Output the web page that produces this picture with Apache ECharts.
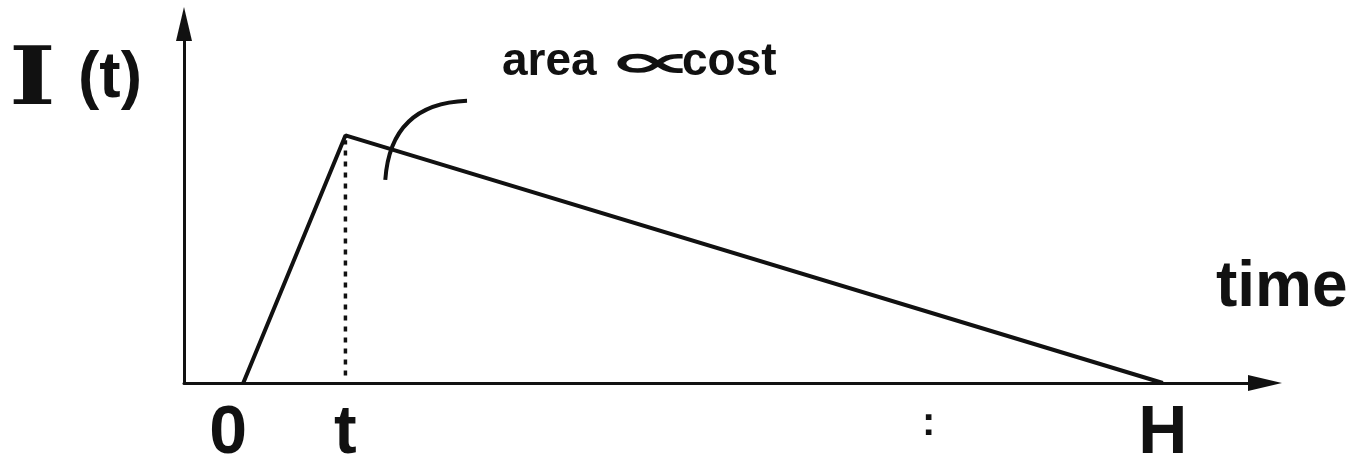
<!DOCTYPE html>
<html>
<head>
<meta charset="utf-8">
<script src="https://cdn.jsdelivr.net/npm/echarts@6/dist/echarts.min.js"></script>
<style>
  html, body { margin: 0; padding: 0; background: #fff; }
  #chart { width: 1362px; height: 460px; }
</style>
</head>
<body>
<div id="chart"></div>
<script>
// time axis: 0 = start, t = 1, H = 9; inventory peaks at 1
const xTicks = [0, 1, 9]
const xTickLabels = ['0', 't', 'H']
const inventory = [[0, 0], [1, 1], [9, 0]]
const peakDrop = [[1, 0.03], [1, 0.98]]
const pointerArc = [{ coords: [[2.19, 1.14], [1.39, 0.82]] }]

const INK = '#111'
const FONT = '"Liberation Sans", Arial, sans-serif'

const chart = echarts.init(document.getElementById('chart'), null, { renderer: 'canvas' })

const option = {
  animation: false,
  backgroundColor: '#fff',
  grid: { left: 184, right: 97, top: 24, bottom: 77, outerBoundsMode: 'none' },
  xAxis: {
    type: 'value',
    min: -0.58,
    max: 10,
    splitLine: { show: false },
    axisTick: { show: false },
    axisLine: {
      onZero: false,
      symbol: ['none', 'triangle'],
      symbolSize: [16, 34],
      lineStyle: { color: INK, width: 3 },
    },
    axisLabel: {
      customValues: xTicks,
      margin: 17,
      formatter: v => {
        const i = xTicks.indexOf(v)
        if (i < 0) return ''
        return i === 0 ? '{zero|0}' : xTickLabels[i]
      },
      color: INK,
      fontFamily: FONT,
      fontWeight: 'bold',
      fontSize: 68,
      rich: {
        zero: { fontFamily: FONT, fontWeight: 'bold', fontSize: 68, color: INK, padding: [0, 30, 0, 0] },
      },
    },
  },
  yAxis: {
    type: 'value',
    min: 0,
    max: 1.45,
    splitLine: { show: false },
    axisTick: { show: false },
    axisLabel: { show: false },
    axisLine: {
      show: true,
      onZero: false,
      symbol: ['none', 'triangle'],
      symbolSize: [16, 34],
      lineStyle: { color: INK, width: 3 },
    },
  },
  series: [
    {
      type: 'line',
      data: inventory,
      symbol: 'none',
      lineStyle: { color: INK, width: 4 },
      z: 3,
    },
    {
      type: 'line',
      data: peakDrop,
      symbol: 'none',
      lineStyle: { color: INK, width: 3.5, type: [5, 6] },
      z: 2,
    },
    {
      type: 'lines',
      coordinateSystem: 'cartesian2d',
      data: pointerArc,
      symbol: 'none',
      lineStyle: { color: INK, width: 4, curveness: -0.45, opacity: 1 },
      z: 4,
    },
  ],
  graphic: [
    {
      type: 'text', left: 9, top: 43, scaleX: 1.25,
      style: { text: 'I', font: 'bold 80px "DejaVu Serif", serif', fill: INK },
    },
    {
      type: 'text', left: 78, top: 47,
      style: { text: '(t)', font: 'bold 64px ' + FONT, fill: INK },
    },
    {
      type: 'text', left: 502, top: 39,
      style: { text: 'area', font: 'bold 46px ' + FONT, fill: INK },
    },
    {
      type: 'text', left: 606, top: 42, scaleX: 2.7,
      style: { text: '\u221D', font: 'bold 46px "DejaVu Sans", sans-serif', fill: INK },
    },
    {
      type: 'text', left: 682, top: 39,
      style: { text: 'cost', font: 'bold 46px ' + FONT, fill: INK },
    },
    {
      type: 'text', left: 1216, top: 256,
      style: { text: 'time', font: 'bold 64px ' + FONT, fill: INK },
    },
    {
      type: 'text', left: 922, top: 404,
      style: { text: ':', font: 'bold 40px ' + FONT, fill: INK },
    },
  ],
}

chart.setOption(option)
window.addEventListener('resize', () => chart.resize())
</script>
</body>
</html>
